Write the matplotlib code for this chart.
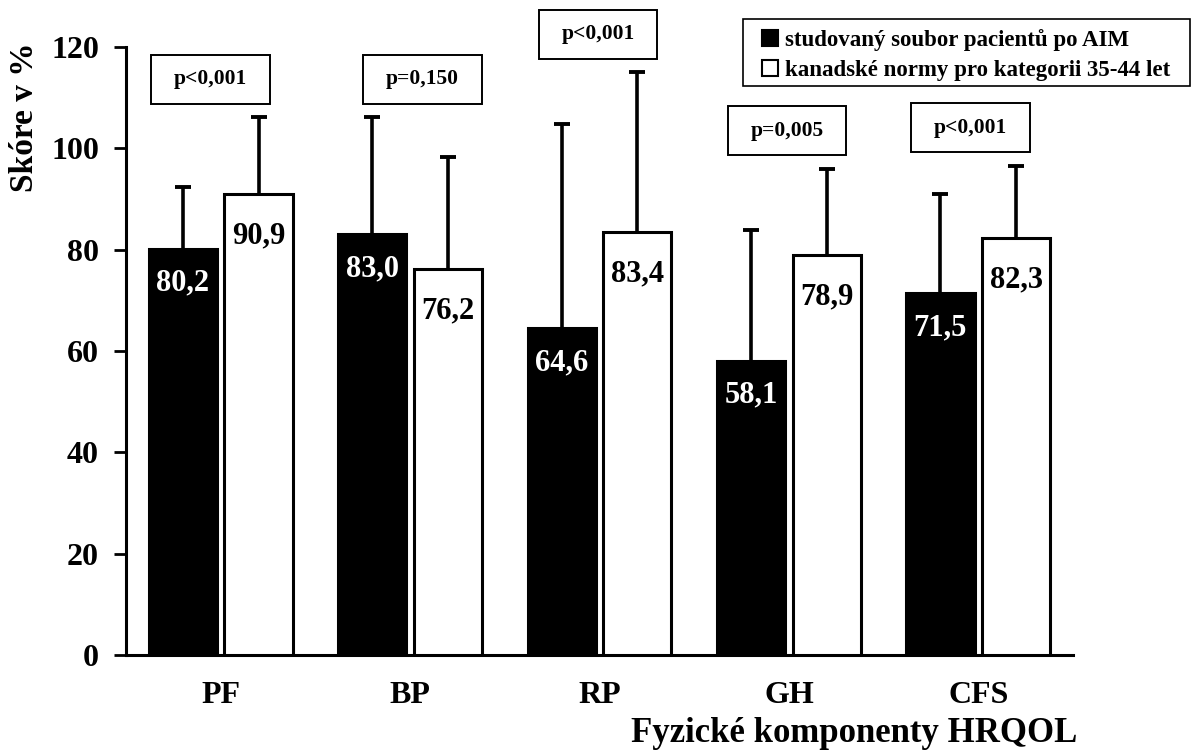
import numpy as np
import matplotlib
matplotlib.use("Agg")
import matplotlib.pyplot as plt
from matplotlib.patches import Rectangle, Patch

plt.rcParams['font.family'] = ['Liberation Serif', 'DejaVu Serif']
plt.rcParams['font.weight'] = 'bold'

# data
categories = ["PF", "BP", "RP", "GH", "CFS"]
aim_mean = [80.2, 83.0, 64.6, 58.1, 71.5]
aim_sd = [12.2, 23.2, 40.3, 25.7, 19.4]
norm_mean = [90.9, 76.2, 83.4, 78.9, 82.3]
norm_sd = [15.3, 22.1, 31.7, 17.1, 14.3]
p_values = ["p<0,001", "p=0,150", "p<0,001", "p=0,005", "p<0,001"]
legend_labels = ["studovaný soubor pacientů po AIM",
                 "kanadské normy pro kategorii 35-44 let"]

# shift of the p-value boxes relative to the group centre
p_dx = [-0.054, 0.065, -0.007, -0.01, -0.04]

fig = plt.figure(figsize=(11.91, 7.53), dpi=100)
ax = fig.add_axes([126/1191, 1 - 655/753, (1073 - 126)/1191, (655 - 47)/753])

x = np.arange(len(categories))
w = 0.36
off = 0.2
lw = 2.2

ax.bar(x - off, aim_mean, w, color="black", edgecolor="black", linewidth=lw, zorder=3)
ax.bar(x + off, norm_mean, w, color="white", edgecolor="black", linewidth=lw, zorder=3)

# one-sided (upper) error bars
for xs, m, s in [(x - off, aim_mean, aim_sd), (x + off, norm_mean, norm_sd)]:
    m = np.array(m); s = np.array(s)
    ax.vlines(xs, m, m + s, color="black", linewidth=2.6, zorder=2)
    ax.plot(xs, m + s, linestyle="none", marker="_", markersize=12,
            markeredgewidth=2.8, color="black", zorder=2, clip_on=False)

# values inside the bars
for i in range(len(categories)):
    ax.annotate(f"{aim_mean[i]:.1f}".replace(".", ","), (x[i] - off, aim_mean[i]),
                xytext=(0, -25), textcoords="offset points", ha="center", va="center",
                color="white", fontsize=22, fontweight="bold", zorder=4)
    ax.annotate(f"{norm_mean[i]:.1f}".replace(".", ","), (x[i] + off, norm_mean[i]),
                xytext=(0, -30), textcoords="offset points", ha="center", va="center",
                color="black", fontsize=22, fontweight="bold", zorder=4)

# p-value boxes above each group
bw, bh = 0.626, 9.67
for i in range(len(categories)):
    top = max(aim_mean[i] + aim_sd[i], norm_mean[i] + norm_sd[i])
    cx = x[i] + p_dx[i]
    cy = top + 2.6 + bh / 2
    ax.add_patch(Rectangle((cx - bw / 2, cy - bh / 2), bw, bh, facecolor="white",
                           edgecolor="black", linewidth=1.4, clip_on=False, zorder=5))
    ax.text(cx, cy, p_values[i], ha="center", va="center", fontsize=15.5,
            fontweight="bold", zorder=6, clip_on=False)

ax.set_xlim(-0.5, len(categories) - 0.5)
ax.set_ylim(0, 120)
ax.set_yticks(np.arange(0, 121, 20))
ax.set_xticks(x)
ax.set_xticklabels(categories, fontsize=23, fontweight="bold")
for lab in ax.get_yticklabels():
    lab.set_fontsize(23)
    lab.set_fontweight("bold")
ax.tick_params(axis="y", length=8.5, width=2, pad=11)
ax.tick_params(axis="x", length=0, pad=19)
for side in ["top", "right"]:
    ax.spines[side].set_visible(False)
for side in ["left", "bottom"]:
    ax.spines[side].set_linewidth(2.2)

fig.text(25/1191, 1 - 117/753, "Skóre v %", rotation=90, ha="center", va="center",
         fontsize=24, fontweight="bold")
fig.text(1077/1191, 1 - 733/753, "Fyzické komponenty HRQOL", ha="right", va="center",
         fontsize=25, fontweight="bold")

# legend: entries without frame, box drawn separately up to the right edge
handles = [Patch(facecolor="black", edgecolor="black", linewidth=1.5),
           Patch(facecolor="white", edgecolor="black", linewidth=1.5)]
leg = fig.legend(handles, legend_labels, loc="upper left",
                 bbox_to_anchor=(762/1191, 1 - 29/753), bbox_transform=fig.transFigure,
                 prop={"size": 16.5, "weight": "bold"}, frameon=False,
                 handlelength=0.7, handleheight=0.7, handletextpad=0.3,
                 borderpad=0, labelspacing=0.4, borderaxespad=0)
fig.patches.append(Rectangle((743/1191, 1 - 86/753), (1190 - 743)/1191, 67/753,
                             transform=fig.transFigure, facecolor="none",
                             edgecolor="black", linewidth=1.2))

fig.savefig("out.png", dpi=100)
